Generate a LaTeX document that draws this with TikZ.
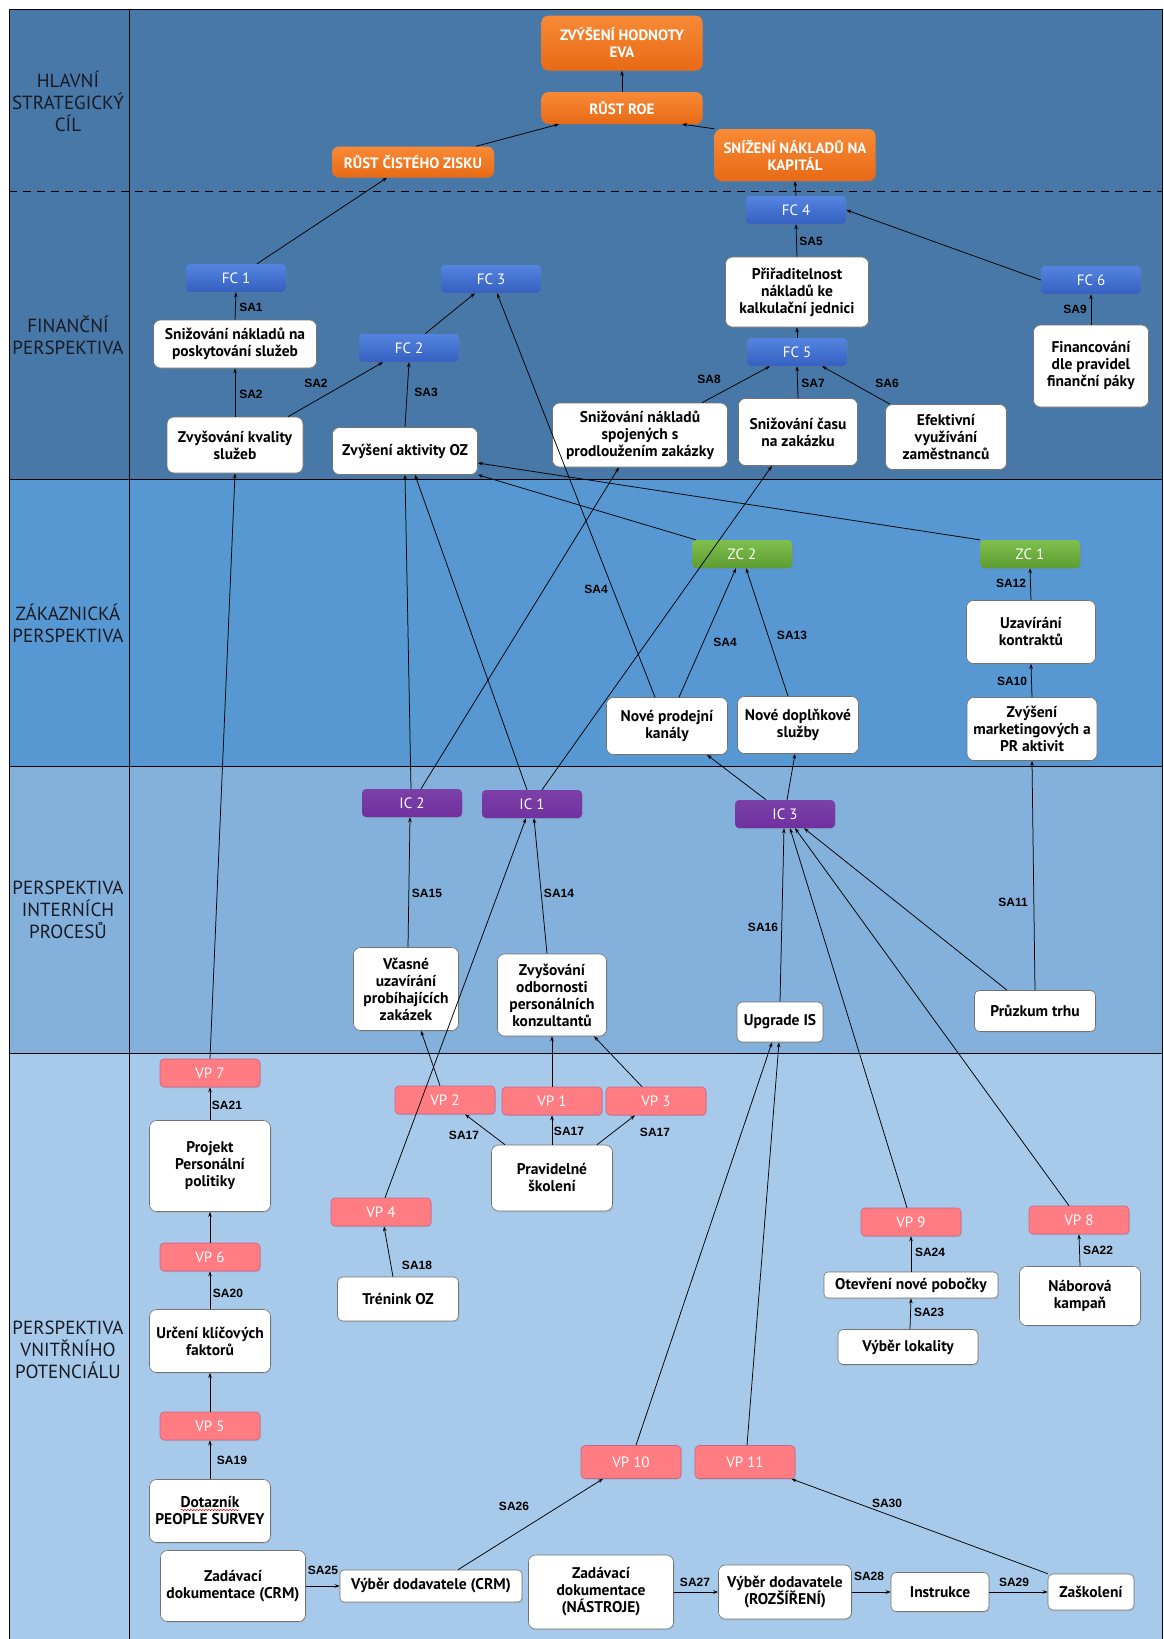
\documentclass[tikz,border=0pt]{standalone}
\usepackage{fontspec}
\setmainfont{PT Sans}
\newfontfamily\arialfont{Liberation Sans}
\usetikzlibrary{arrows.meta,shadows,decorations.pathmorphing}
\definecolor{bandfin}{HTML}{4878A8}
\definecolor{bandzak}{HTML}{5898D2}
\definecolor{bandint}{HTML}{84B0DC}
\definecolor{bandpot}{HTML}{A8CAEA}
\definecolor{goaltop}{HTML}{F88A36}
\definecolor{goalbot}{HTML}{E86A16}
\definecolor{fctop}{HTML}{5484E0}
\definecolor{fcbot}{HTML}{3560C0}
\definecolor{zctop}{HTML}{7EC04E}
\definecolor{zcbot}{HTML}{5E9C32}
\definecolor{icfill}{HTML}{7030A0}
\definecolor{vpfill}{HTML}{FF7C82}
\definecolor{vpline}{HTML}{C8648C}
\definecolor{rowtext}{HTML}{181A24}
\newcommand\boxtxt{\fontsize{15.5}{17}\selectfont\bfseries}
\newcommand\tagtxt{\fontsize{15}{17}\selectfont}
\newcommand\goaltxt{\fontsize{15}{17}\selectfont\bfseries}
\newcommand\satxt{\arialfont\fontsize{12}{14}\selectfont\bfseries}
\newcommand\rowtxt{\fontsize{19}{22}\selectfont}
\begin{document}
\begin{tikzpicture}[x=1pt,y=-1pt,
    softshadow/.style={drop shadow={opacity=0.25,shadow xshift=0.8pt,shadow yshift=-1.2pt}},
    goal/.style={rectangle,rounded corners=7pt,top color=goaltop,bottom color=goalbot,
      text=white,font=\goaltxt,align=center,softshadow},
    fc/.style={rectangle,rounded corners=4pt,top color=fctop,bottom color=fcbot,
      text=white,font=\tagtxt,minimum width=100pt,minimum height=28pt,softshadow},
    zc/.style={fc,top color=zctop,bottom color=zcbot},
    ic/.style={fc,top color=icfill!92!white,bottom color=icfill},
    vp/.style={rectangle,rounded corners=4pt,fill=vpfill,draw=vpline,line width=0.6pt,
      text=white,font=\tagtxt,minimum width=100pt,minimum height=28pt,softshadow},
    act/.style={rectangle,rounded corners=7pt,fill=white,draw=black!55,line width=0.6pt,
      align=center,font=\boxtxt,inner sep=1.5pt,softshadow},
    rowlabel/.style={align=center,font=\rowtxt,text=rowtext},
    link/.style={-{Stealth[length=5pt,width=3.6pt]},line width=0.75pt},
    sa/.style={font=\satxt,inner sep=0pt}
  ]
\useasboundingbox (0,0) rectangle (1163,1639);
% bands
\fill[bandfin] (9,9) rectangle (1162,479);
\fill[bandzak] (9,479) rectangle (1162,766);
\fill[bandint] (9,766) rectangle (1162,1053);
\fill[bandpot] (9,1053) rectangle (1162,1639);
\draw[line width=0.8pt] (9,1639) -- (9,9) -- (1162,9) -- (1162,1639);
\draw[line width=0.8pt] (129,9) -- (129,1639);
\draw[line width=0.8pt,dash pattern=on 8pt off 6pt] (9,191) -- (1162,191);
\foreach \yy in {479,766,1053}
  \draw[line width=0.8pt] (9,\yy) -- (1162,\yy);
% row titles
\node[rowlabel] (rhlavni) at (68,101) {HLAVNÍ\\STRATEGICKÝ\\CÍL};
\node[rowlabel] (rfin) at (68,335) {FINANČNÍ\\PERSPEKTIVA};
\node[rowlabel] (rzak) at (68,623) {ZÁKAZNICKÁ\\PERSPEKTIVA};
\node[rowlabel] (rint) at (68,910) {PERSPEKTIVA\\INTERNÍCH\\PROCESŮ};
\node[rowlabel] (rpot) at (68,1350) {PERSPEKTIVA\\VNITŘNÍHO\\POTENCIÁLU};

% main goal
\node[goal,minimum width=161pt,minimum height=55pt] (eva) at (622,43) {ZVÝŠENÍ HODNOTY\\EVA};
\node[goal,minimum width=161pt,minimum height=32pt] (roe) at (622,108) {RŮST ROE};
\node[goal,minimum width=162pt,minimum height=31pt] (zisk) at (413,162) {RŮST ČISTÉHO ZISKU};
\node[goal,minimum width=161pt,minimum height=52pt] (kap) at (795,155) {SNÍŽENÍ NÁKLADŮ NA\\KAPITÁL};

% financial
\node[fc] (fc1) at (236,278) {FC 1};
\node[fc] (fc2) at (409,348) {FC 2};
\node[fc] (fc3) at (491,279) {FC 3};
\node[fc] (fc4) at (796,210) {FC 4};
\node[fc] (fc5) at (797,352) {FC 5};
\node[fc] (fc6) at (1091,280) {FC 6};
\node[act,minimum width=163pt,minimum height=48pt] (snp) at (235,344) {Snižování nákladů na\\poskytování služeb};
\node[act,minimum width=136pt,minimum height=56pt] (zks) at (235,445) {Zvyšování kvality\\služeb};
\node[act,minimum width=145pt,minimum height=47pt] (zoz) at (405,451) {Zvýšení aktivity OZ};
\node[act,minimum width=175pt,minimum height=64pt] (sns) at (640,435) {Snižování nákladů\\spojených s\\prodloužením zakázky};
\node[act,minimum width=119pt,minimum height=67pt] (scz) at (798,432) {Snižování času\\na zakázku};
\node[act,minimum width=121pt,minimum height=65pt] (efz) at (946,437) {Efektivní\\využívání\\zaměstnanců};
\node[act,minimum width=143pt,minimum height=70pt] (pri) at (797,292) {Přiřaditelnost\\nákladů ke\\kalkulační jednici};
\node[act,minimum width=115pt,minimum height=82pt] (fin) at (1091,366) {Financování\\dle pravidel\\finanční páky};

% customer
\node[zc] (zc2) at (742,554) {ZC 2};
\node[zc] (zc1) at (1030,554) {ZC 1};
\node[act,minimum width=129pt,minimum height=63pt] (uzk) at (1031,632) {Uzavírání\\kontraktů};
\node[act,minimum width=130pt,minimum height=63pt] (zmpr) at (1032,729) {Zvýšení\\marketingových a\\PR aktivit};
\node[act,minimum width=121pt,minimum height=57pt] (npk) at (667,726) {Nové prodejní\\kanály};
\node[act,minimum width=121pt,minimum height=57pt] (nds) at (798,725) {Nové doplňkové\\služby};

% internal processes
\node[ic] (ic2) at (412,803) {IC 2};
\node[ic] (ic1) at (532,804) {IC 1};
\node[ic] (ic3) at (785,814) {IC 3};
\node[act,minimum width=105pt,minimum height=83pt] (vcu) at (406,989) {Včasné\\uzavírání\\probíhajících\\zakázek};
\node[act,minimum width=109pt,minimum height=82pt] (zop) at (552,995) {Zvyšování\\odbornosti\\personálních\\konzultantů};
\node[act,minimum width=86pt,minimum height=40pt,rounded corners=5pt] (upg) at (780,1022) {Upgrade IS};
\node[act,minimum width=121pt,minimum height=41pt,rounded corners=5pt] (pzt) at (1035,1011) {Průzkum trhu};

% potential
\node[vp] (vp7) at (210,1073) {VP 7};
\node[vp] (vp2) at (445,1100) {VP 2};
\node[vp] (vp1) at (552,1101) {VP 1};
\node[vp] (vp3) at (656,1101) {VP 3};
\node[vp] (vp4) at (381,1212) {VP 4};
\node[vp] (vp6) at (210,1257) {VP 6};
\node[vp] (vp5) at (210,1426) {VP 5};
\node[vp] (vp9) at (911,1222) {VP 9};
\node[vp] (vp8) at (1079,1220) {VP 8};
\node[vp,minimum height=33pt] (vp10) at (631,1462) {VP 10};
\node[vp,minimum height=33pt] (vp11) at (745,1462) {VP 11};
\node[act,minimum width=121pt,minimum height=91pt] (ppp) at (210,1166) {Projekt\\Personální\\politiky};
\node[act,minimum width=121pt,minimum height=66pt] (prs) at (552,1178) {Pravidelné\\školení};
\node[act,minimum width=121pt,minimum height=44pt,rounded corners=5pt] (tre) at (398,1299) {Trénink OZ};
\node[act,minimum width=121pt,minimum height=63pt] (ukf) at (210,1341) {Určení klíčových\\faktorů};
\node[act,minimum width=121pt,minimum height=63pt] (dot) at (210,1511) {Dotazník\\PEOPLE SURVEY};
\node[act,minimum width=174pt,minimum height=26pt,rounded corners=4pt] (onp) at (911,1285) {Otevření nové pobočky};
\node[act,minimum width=140pt,minimum height=35pt,rounded corners=5pt] (vlk) at (908,1347) {Výběr lokality};
\node[act,minimum width=121pt,minimum height=59pt] (nbk) at (1080,1296) {Náborová\\kampaň};
\node[act,minimum width=145pt,minimum height=71pt] (zdc) at (233,1586) {Zadávací\\dokumentace (CRM)};
\node[act,minimum width=182pt,minimum height=32pt,rounded corners=4pt] (vdc) at (431,1586) {Výběr dodavatele (CRM)};
\node[act,minimum width=145pt,minimum height=74pt] (zdn) at (601,1592) {Zadávací\\dokumentace\\(NÁSTROJE)};
\node[act,minimum width=133pt,minimum height=54pt] (vdr) at (785,1592) {Výběr dodavatele\\(ROZŠÍŘENÍ)};
\node[act,minimum width=98pt,minimum height=39pt,rounded corners=5pt] (ins) at (940,1592) {Instrukce};
\node[act,minimum width=86pt,minimum height=36pt,rounded corners=5pt] (zas) at (1091,1592) {Zaškolení};
% spell-check mark under Dotaznik
\draw[red!85!black,line width=0.5pt,decorate,decoration={snake,amplitude=0.7pt,segment length=3pt}]
  (181,1510) -- (239,1510);

% connectors: goals and finance
\draw[link] (roe.north) -- (eva.south);
\draw[link] ([xshift=63pt]zisk.north) -- ([xshift=-63pt]roe.south);
\draw[link] (kap.north west) -- ([xshift=60pt]roe.south);
\draw[link] (fc4.north) -- (kap.south);
\draw[link] ([xshift=21pt]fc1.north) -- ([xshift=-26pt]zisk.south);
\draw[link] (snp.north) -- (fc1.south);
\draw[link] (zks.north) -- (snp.south);
\draw[link] ([xshift=53pt]zks.north) -- ([xshift=-26pt]fc2.south);
\draw[link] ([xshift=16pt]fc2.north) -- ([xshift=-16pt]fc3.south);
\draw[link] (zoz.north) -- (fc2.south);
\draw[link] (pri.north) -- (fc4.south);
\draw[link] (fc5.north) -- (pri.south);
\draw[link] (fc6.west) -- (fc4.east);
\draw[link] (fin.north) -- (fc6.south);
\draw[link] ([xshift=62pt]sns.north) -- ([xshift=-27pt]fc5.south);
\draw[link] (scz.north) -- (fc5.south);
\draw[link] ([xshift=-56pt]efz.north) -- ([xshift=25pt]fc5.south);
% connectors: customer
\draw[link] ([xshift=-12pt]npk.north) -- ([xshift=6pt]fc3.south);
\draw[link] ([xshift=12pt]npk.north) -- ([xshift=-6pt]zc2.south);
\draw[link] ([xshift=-10pt]nds.north) -- ([xshift=4pt]zc2.south);
\draw[link] ([xshift=4pt]zc2.north west) -- (zoz.south east);
\draw[link] (zc1.north west) -- ([yshift=-12pt]zoz.east);
\draw[link] (zmpr.north) -- (uzk.south);
\draw[link] (uzk.north) -- (zc1.south);
% connectors: internal processes
\draw[link] ([xshift=9pt]ic2.north) -- ([xshift=-21pt]sns.south);
\draw[link] ([xshift=10pt]ic1.north) -- ([xshift=-26pt]scz.south);
\draw[link] ([xshift=-1pt]ic2.north) -- (zoz.south);
\draw[link] ([xshift=-5pt]ic1.north) -- ([xshift=10pt]zoz.south);
\draw[link] ([xshift=-19pt]ic3.north) -- ([xshift=40pt]npk.south);
\draw[link] ([xshift=2pt]ic3.north) -- ([xshift=-3pt]nds.south);
\draw[link] (pzt.north) -- (zmpr.south);
\draw[link] ([xshift=-28pt]pzt.north) -- ([xshift=19pt]ic3.south);
\draw[link] ([xshift=2pt]vcu.north) -- ([xshift=-2pt]ic2.south);
\draw[link] ([xshift=-5pt]zop.north) -- ([xshift=2pt]ic1.south);
\draw[link] (upg.north) -- ([xshift=-1pt]ic3.south);
% connectors: potential
\draw[link] (vp7.north) -- (zks.south);
\draw[link] ([xshift=-4pt]vp9.north) -- ([xshift=5pt]ic3.south);
\draw[link] ([xshift=-10pt]vp8.north) -- ([xshift=10pt]ic3.south);
\draw[link] ([xshift=-5pt]vp2.north) -- ([xshift=15pt]vcu.south);
\draw[link] ([xshift=4pt]vp4.north) -- ([xshift=-6pt]ic1.south);
\draw[link] (vp1.north) -- (zop.south);
\draw[link] ([xshift=-14pt]vp3.north) -- ([xshift=42pt]zop.south);
\draw[link] ([xshift=-47pt]prs.north) -- ([xshift=20pt]vp2.south);
\draw[link] (prs.north) -- (vp1.south);
\draw[link] ([xshift=45pt]prs.north) -- ([xshift=-21pt]vp3.south);
\draw[link] (ppp.north) -- (vp7.south);
\draw[link] (vp6.north) -- (ppp.south);
\draw[link] (ukf.north) -- (vp6.south);
\draw[link] (vp5.north) -- (ukf.south);
\draw[link] (dot.north) -- (vp5.south);
\draw[link] ([xshift=-5pt]tre.north) -- ([xshift=3pt]vp4.south);
\draw[link] (onp.north) -- (vp9.south);
\draw[link] ([xshift=2pt]vlk.north) -- (onp.south);
\draw[link] (nbk.north) -- (vp8.south);
\draw[link] ([xshift=5pt]vp10.north) -- ([xshift=-8pt]upg.south);
\draw[link] ([xshift=2pt]vp11.north) -- ([xshift=-1pt]upg.south);
\draw[link] ([xshift=27pt]vdc.north) -- ([xshift=-28pt]vp10.south);
\draw[link] (zdc.east) -- (vdc.west);
\draw[link] (zdn.east) -- (vdr.west);
\draw[link] (vdr.east) -- (ins.west);
\draw[link] (ins.east) -- (zas.west);
\draw[link] (zas.north west) -- ([xshift=-4pt]vp11.south east);

% SA labels
\node[sa] (l1) at (251,307) {SA1};
\node[sa] (l2a) at (251,394) {SA2};
\node[sa] (l2b) at (316,383) {SA2};
\node[sa] (l3) at (426,392) {SA3};
\node[sa] (l4a) at (596,589) {SA4};
\node[sa] (l4b) at (725,642) {SA4};
\node[sa] (l13) at (792,635) {SA13};
\node[sa] (l5) at (811,241) {SA5};
\node[sa] (l9) at (1075,309) {SA9};
\node[sa] (l8) at (709,379) {SA8};
\node[sa] (l7) at (813,383) {SA7};
\node[sa] (l6) at (887,383) {SA6};
\node[sa] (l12) at (1011,583) {SA12};
\node[sa] (l10) at (1012,681) {SA10};
\node[sa] (l11) at (1013,902) {SA11};
\node[sa] (l16) at (763,927) {SA16};
\node[sa] (l15) at (427,893) {SA15};
\node[sa] (l14) at (559,893) {SA14};
\node[sa] (l17a) at (464,1135) {SA17};
\node[sa] (l17b) at (569,1131) {SA17};
\node[sa] (l17c) at (655,1132) {SA17};
\node[sa] (l21) at (227,1105) {SA21};
\node[sa] (l20) at (228,1293) {SA20};
\node[sa] (l19) at (232,1460) {SA19};
\node[sa] (l18) at (417,1265) {SA18};
\node[sa] (l26) at (514,1506) {SA26};
\node[sa] (l25) at (323,1570) {SA25};
\node[sa] (l24) at (930,1252) {SA24};
\node[sa] (l23) at (929,1312) {SA23};
\node[sa] (l22) at (1098,1250) {SA22};
\node[sa] (l30) at (887,1503) {SA30};
\node[sa] (l27) at (695,1582) {SA27};
\node[sa] (l28) at (869,1576) {SA28};
\node[sa] (l29) at (1014,1582) {SA29};
\end{tikzpicture}
\end{document}
